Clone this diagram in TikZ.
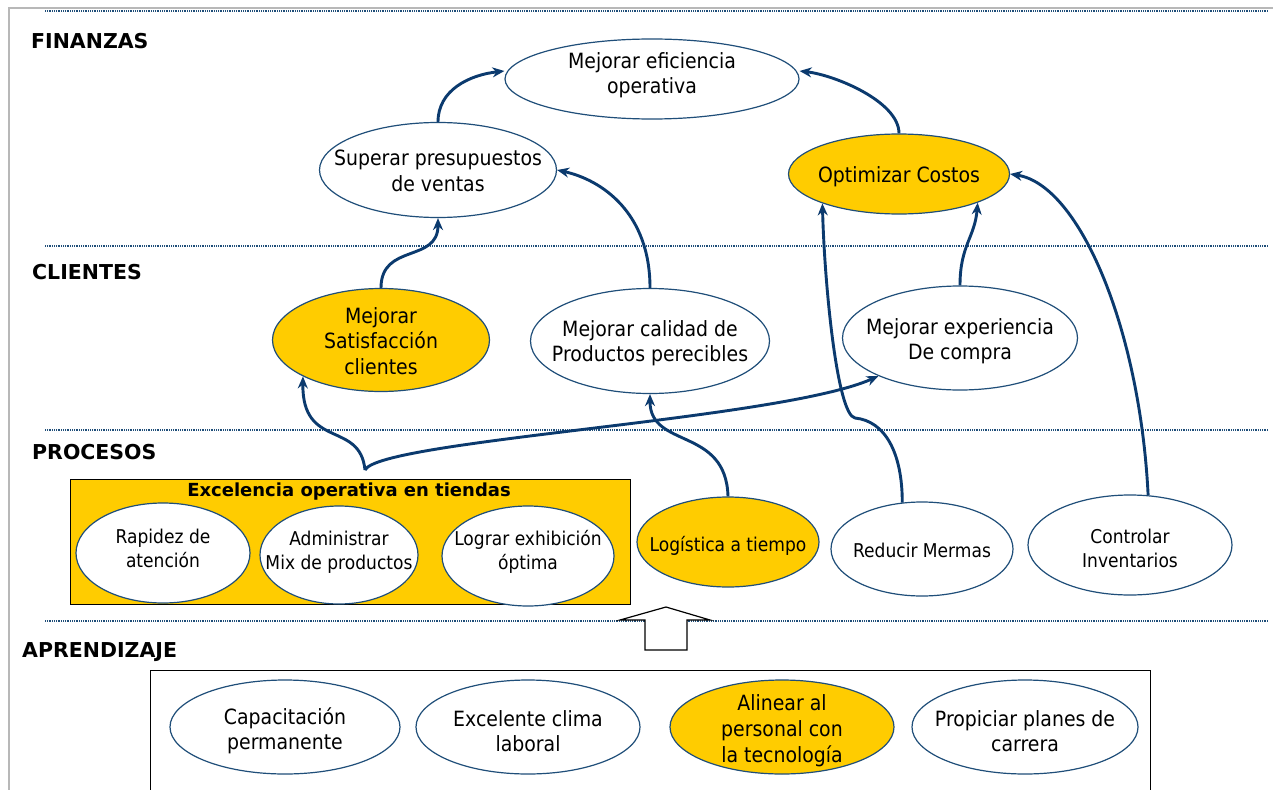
\documentclass[tikz,border=0pt]{standalone}
\usepackage{fontspec}
\setmainfont{DejaVu Sans}[FakeStretch=0.9]
\newfontfamily\hdrfont{DejaVu Sans}
\usetikzlibrary{shapes.geometric,arrows.meta,calc}
\definecolor{navy}{HTML}{0B3A6E}
\definecolor{ebord}{HTML}{1F4E79}
\definecolor{gold}{HTML}{FFCC00}
\definecolor{dotc}{HTML}{1F4E79}
\begin{document}
\begin{tikzpicture}[x=1pt,y=-1pt,
  obj/.style={ellipse,draw=ebord,line width=1.2pt,fill=white,inner sep=0pt},
  hl/.style={fill=gold},
  txt/.style={inner sep=0pt,align=center,font=\fontsize{21}{25.5}\selectfont},
  txts/.style={inner sep=0pt,align=center,font=\fontsize{19}{24}\selectfont},
  hdr/.style={anchor=west,inner sep=0pt,font=\hdrfont\bfseries\fontsize{20.5}{24}\selectfont},
  sep/.style={draw=dotc,line width=2.2pt,dash pattern=on 1pt off 0.8pt},
  arr/.style={draw=navy,line width=2.9pt,-{Stealth[length=12pt,width=10pt]}},
  frame/.style={draw=black,line width=1.2pt}
]
\useasboundingbox (0,0) rectangle (1273,789);
\fill[white] (0,0) rectangle (1273,789);
% outer gray frame
\draw[black!28,line width=2pt] (8.5,800) -- (8.5,8.5) -- (1280,8.5);
% separators
\draw[sep] (45,11) -- (1268,11);
\draw[sep] (45,246) -- (1268,246);
\draw[sep] (45,430) -- (1268,430);
\draw[sep] (45,621) -- (1268,621);
% headers
\node[hdr] (hfin) at (31,41) {FINANZAS};
\node[hdr] (hcli) at (32,272) {CLIENTES};
\node[hdr] (hpro) at (32,452) {PROCESOS};
\node[hdr] (hapr) at (22,652) {APRENDIZAJE};
% procesos box
\node[frame,fill=gold,anchor=north west,minimum width=560pt,minimum height=125pt,inner sep=0pt] (box) at (70,479) {};
\node[inner sep=0pt,font=\hdrfont\bfseries\fontsize{18}{22}\selectfont] (boxt) at (349,492) {Excelencia operativa en tiendas};
% aprendizaje box
\node[frame,anchor=north west,minimum width=1000pt,minimum height=160pt,inner sep=0pt] (abox) at (150,670) {};
% block arrow
\draw[frame,fill=white] (666,607) -- (710,620) -- (687,620) -- (687,650) -- (645,650) -- (645,620) -- (620,620) -- cycle;
% finanzas
\node[obj,minimum width=294pt,minimum height=80pt] (efi) at (652,79) {};
\node[txt] (efi-t) at (652,75) {Mejorar eficiencia\\operativa};
\node[obj,minimum width=237pt,minimum height=95pt] (sup) at (438,170) {};
\node[txt] (sup-t) at (438,171) {Superar presupuestos\\de ventas};
\node[obj,hl,minimum width=221pt,minimum height=80pt] (opt) at (899,174) {};
\node[txt] (opt-t) at (899,177) {Optimizar Costos};
% clientes
\node[obj,hl,minimum width=217pt,minimum height=103pt] (sat) at (381,340) {};
\node[txt] (sat-t) at (381,341) {Mejorar\\Satisfacción\\clientes};
\node[obj,minimum width=239pt,minimum height=105pt] (cal) at (650,341) {};
\node[txt] (cal-t) at (650,343) {Mejorar calidad de\\Productos perecibles};
\node[obj,minimum width=235pt,minimum height=104pt] (exp) at (960,338) {};
\node[txt] (exp-t) at (960,341) {Mejorar experiencia\\De compra};
% procesos
\node[obj,minimum width=174pt,minimum height=100pt] (rap) at (163,553) {};
\node[txts] (rap-t) at (163,548) {Rapidez de\\atención};
\node[obj,minimum width=158pt,minimum height=98pt] (adm) at (339,555) {};
\node[txts] (adm-t) at (339,552) {Administrar\\Mix de productos};
\node[obj,minimum width=172pt,minimum height=100pt] (lex) at (528,556) {};
\node[txts] (lex-t) at (528,552) {Lograr exhibición\\óptima};
\node[obj,hl,minimum width=182pt,minimum height=90pt] (log) at (728,542) {};
\node[txts] (log-t) at (728,546) {Logística a tiempo};
\node[obj,minimum width=182pt,minimum height=94pt] (mer) at (922,549) {};
\node[txts] (mer-t) at (922,550) {Reducir Mermas};
\node[obj,minimum width=204pt,minimum height=100pt] (inv) at (1130,545) {};
\node[txts] (inv-t) at (1130,548) {Controlar\\Inventarios};
% aprendizaje
\node[obj,minimum width=230pt,minimum height=94pt] (cap) at (285,727) {};
\node[txt] (cap-t) at (285,731) {Capacitación\\permanente};
\node[obj,minimum width=224pt,minimum height=94pt] (cli) at (528,727) {};
\node[txt] (cli-t) at (528,731) {Excelente clima\\laboral};
\node[obj,hl,minimum width=224pt,minimum height=94pt] (ali) at (782,727) {};
\node[txt,font=\fontsize{21}{26}\selectfont] (ali-t) at (782,731) {Alinear al\\personal con\\la tecnología};
\node[obj,minimum width=226pt,minimum height=94pt] (pro) at (1025,727) {};
\node[txt] (pro-t) at (1025,731) {Propiciar planes de\\carrera};
% connectors
\draw[arr] (sup.north) .. controls +(0,-32) and +(-35,4) .. ($(efi.west)+(0,-8)$);
\draw[arr] (opt.north) .. controls +(0,-32) and +(35,4) .. ($(efi.east)+(0,-8)$);
\draw[arr] (sat.north) .. controls +(0,-45) and +(0,45) .. (sup.south);
\draw[arr] (cal.north) .. controls +(0,-75) and +(45,10) .. (sup.east);
\draw[arr] (exp.north) .. controls +(0,-40) and +(-3,35) .. (opt.-20);
\draw[arr] (mer.113) .. controls +(0,-50) and +(30,3) .. (855,418) .. controls +(-18,-3) and +(2,80) .. (opt.201);
\draw[arr] (inv.70) .. controls (1140,330) and (1080,185) .. (opt.east);
\coordinate (br) at (365,470);
\draw[arr] (br) .. controls (360,420) and (302,450) .. (sat.205);
\draw[arr] (br) .. controls (380,440) and (780,420) .. (exp.205);
\draw[arr] (log.north) .. controls +(-2,-70) and +(0,55) .. (cal.south);
\end{tikzpicture}
\end{document}
